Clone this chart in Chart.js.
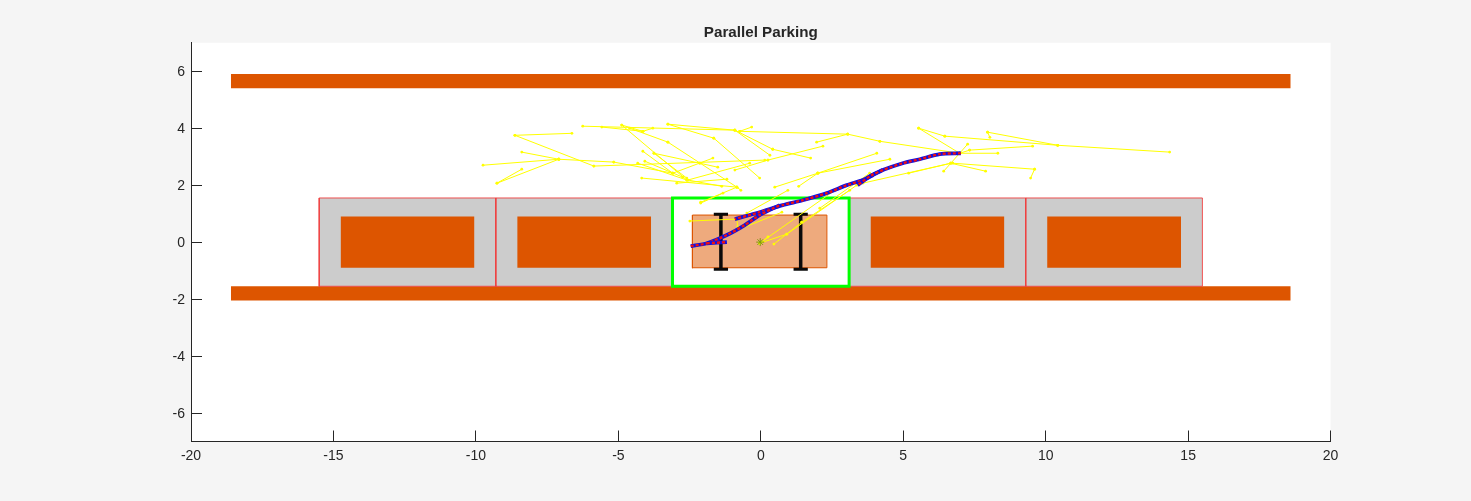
<!DOCTYPE html>
<html>
<head>
<meta charset="utf-8">
<style>
  html, body { margin: 0; padding: 0; background: #f5f5f5; }
  canvas { display: block; }
</style>
<script src="https://cdn.jsdelivr.net/npm/chart.js@4"></script>
</head>
<body>
<canvas id="chart" width="1471" height="501"></canvas>
<script>
var xTicks = [-20, -15, -10, -5, 0, 5, 10, 15, 20];
var yTicks = [-6, -4, -2, 0, 2, 4, 6];

// x0, x1, y0, y1
var curbs = [[-18.6, 18.6, 5.4, 5.9], [-18.6, 18.6, -2.05, -1.55]];
var spots = [[-15.5, -9.3, -1.55, 1.55], [-9.3, -3.1, -1.55, 1.55], [3.1, 9.3, -1.55, 1.55], [9.3, 15.5, -1.55, 1.55]];
var parked = [[-14.75, -10.05, -0.9, 0.9], [-8.55, -3.85, -0.9, 0.9], [3.85, 8.55, -0.9, 0.9], [10.05, 14.75, -0.9, 0.9]];
var goalSpot = [-3.1, 3.1, -1.55, 1.55];
var egoCar = [-2.4, 2.32, -0.9, 0.95];
var wheelX = [-1.4, 1.4];
var wheelY = [-0.95, 0.98];
var wheelCap = 0.25;
var goalPoint = [-0.02, 0.0];

// search tree edges: x1, y1, x2, y2
var treeEdges = [
  [-6.63,3.82,-8.63,3.75],[-8.63,3.75,-5.86,2.67],[-5.86,2.67,0.14,2.88],[-8.39,3.16,-7.09,2.91],
  [-7.09,2.91,-9.75,2.70],[-7.09,2.91,-9.26,2.07],[-8.39,2.56,-9.26,2.07],[-7.09,2.91,-5.16,2.81],
  [-5.16,2.81,-3.09,2.42],[-6.25,4.07,-0.91,3.93],[-5.58,4.04,-4.14,3.89],[-4.88,4.11,-4.14,3.89],
  [-4.14,3.89,-3.79,4.0],[-4.88,4.11,-2.60,2.18],[-4.60,4.0,-3.26,3.51],[-3.26,3.51,-0.84,1.93],
  [-3.26,4.14,-0.91,3.93],[-3.26,4.14,-1.65,3.65],[-1.65,3.65,-0.04,2.25],[-4.14,3.19,-3.09,2.42],
  [-3.75,3.12,-2.60,2.25],[-3.75,3.12,-2.14,2.77],[-4.32,2.77,-2.60,2.18],[-4.07,2.84,-2.74,2.28],
  [-4.18,2.25,-0.84,1.93],[-2.95,2.07,-1.19,2.21],[-3.09,2.42,-1.68,2.95],[-2.56,2.18,-0.39,2.77],
  [-2.14,2.77,-1.51,2.63],[-0.84,1.93,-0.70,1.82],[-0.84,1.93,-2.11,1.40],[-2.56,2.18,-1.37,1.96],
  [-0.74,3.89,3.05,3.79],[-0.32,4.04,-0.74,3.89],[1.96,3.51,3.05,3.79],[3.05,3.79,4.18,3.54],
  [4.18,3.54,6.98,3.12],[-0.91,3.93,0.42,3.26],[0.42,3.26,1.75,2.95],[2.18,3.37,0.25,2.88],
  [0.25,2.88,-0.91,2.53],[-0.91,3.93,0.32,3.05],[6.98,3.12,8.32,3.12],[6.98,3.12,7.33,3.23],
  [7.33,3.23,9.54,3.37],[6.98,3.12,7.26,3.44],[6.98,3.12,5.54,4.0],[5.54,4.0,6.46,3.72],
  [6.46,3.72,10.42,3.40],[10.42,3.40,7.96,3.86],[7.96,3.86,8.04,3.68],[10.42,3.40,14.35,3.16],
  [6.74,2.77,9.61,2.56],[9.61,2.56,9.47,2.25],[6.98,3.12,6.42,2.49],[6.67,2.77,7.89,2.49],
  [6.67,2.77,5.19,2.42],[6.67,2.77,3.58,2.07],[0.49,1.93,2.0,2.42],[2.0,2.42,4.07,3.12],
  [2.0,2.42,4.53,2.91],[2.0,2.42,1.33,1.96],[3.82,2.42,2.07,1.19],[3.37,2.0,0.91,0.28],
  [-2.49,0.74,-0.84,0.81],[-0.84,0.81,-0.81,0.53],[0.74,1.05,-1.09,0.32],[-0.49,1.02,0.95,1.82],
  [-0.04,-0.04,0.25,0.18],[-0.04,-0.04,2.60,1.82],[-0.04,-0.04,0.91,0.28],[0.46,-0.07,1.44,0.70],
  [1.44,0.70,3.12,1.82],[-2.11,1.37,-1.33,1.72]
];

// planned paths, x and y kept apart
var pathAX = [7.02, 6.28, 5.58, 4.98, 4.28, 3.93, 3.58, 3.02, 2.32, 1.47, 0.77, -0.04, -0.91];
var pathAY = [3.12, 3.09, 2.91, 2.77, 2.53, 2.35, 2.18, 2.0, 1.72, 1.47, 1.30, 1.05, 0.81];
var pathBX = [4.28, 3.89, 3.40];
var pathBY = [2.53, 2.35, 2.0];
var pathCX = [-2.46, -1.89, -1.19, -0.56, -0.04, 0.67];
var pathCY = [-0.14, -0.04, 0.25, 0.60, 0.95, 1.30];
var pathDX = [-1.89, -1.19];
var pathDY = [-0.04, 0.0];

var orange = "#dd5500";
var datasets = [];

function addFill(r, color) {
  datasets.push({
    data: [{x: r[0], y: r[3]}, {x: r[1], y: r[3]}],
    fill: {value: r[2]}, backgroundColor: color, borderWidth: 0, pointRadius: 0
  });
}
function addOutline(r, color, width) {
  datasets.push({
    data: [{x: r[0], y: r[2]}, {x: r[1], y: r[2]}, {x: r[1], y: r[3]}, {x: r[0], y: r[3]}, {x: r[0], y: r[2]}],
    borderColor: color, borderWidth: width, pointRadius: 0, fill: false, borderJoinStyle: "miter", borderCapStyle: "square"
  });
}
function addLine(pts, color, width, radius, dash, tension) {
  datasets.push({
    data: pts, borderColor: color, borderWidth: width, pointRadius: radius || 0,
    pointBackgroundColor: color, pointBorderWidth: 0, fill: false, borderDash: dash || [], tension: tension || 0
  });
}
function zipPath(xs, ys) {
  return xs.map(function(x, i) { return {x: x, y: ys[i]}; });
}

curbs.forEach(function(r) { addFill(r, orange); });
spots.forEach(function(r) { addFill(r, "#cccccc"); addOutline(r, "#ee4040", 0.9); });
parked.forEach(function(r) { addFill(r, orange); });
addOutline(goalSpot, "#00ff00", 3);
addFill(egoCar, "#eeaa7d");
addOutline(egoCar, orange, 1);

wheelX.forEach(function(x) {
  addLine([{x: x, y: wheelY[0]}, {x: x, y: wheelY[1]}], "#0a0a0a", 3.5);
  wheelY.forEach(function(y) {
    addLine([{x: x - wheelCap, y: y}, {x: x + wheelCap, y: y}], "#0a0a0a", 3);
  });
});

treeEdges.forEach(function(e) {
  addLine([{x: e[0], y: e[1]}, {x: e[2], y: e[3]}], "#ffff00", 1, 1.4);
});

[[pathAX, pathAY], [pathBX, pathBY], [pathCX, pathCY], [pathDX, pathDY]].forEach(function(p) {
  addLine(zipPath(p[0], p[1]), "#1010e0", 3.8, 0, [], 0.25);
  addLine(zipPath(p[0], p[1]), "#f01010", 2.4, 0, [3, 2], 0.25);
});

datasets.push({
  data: [{x: goalPoint[0], y: goalPoint[1]}], pointStyle: "star", pointRadius: 4,
  pointBorderColor: "#7f9a10", pointBorderWidth: 1, showLine: false
});

datasets.forEach(function(d, i) { d.order = datasets.length - i; });

var plotBackground = {
  id: "plotBackground",
  beforeDraw: function(chart) {
    var a = chart.chartArea;
    chart.ctx.fillStyle = "#ffffff";
    chart.ctx.fillRect(a.left, a.top, a.width, a.height);
  }
};

window.chart = new Chart(document.getElementById("chart").getContext("2d"), {
  type: "line",
  data: {datasets: datasets},
  plugins: [plotBackground],
  options: {
    responsive: false,
    animation: false,
    layout: {padding: {left: 0, right: 140.4, top: 0, bottom: 0}},
    plugins: {
      legend: {display: false},
      tooltip: {enabled: false},
      title: {
        display: true, text: "Parallel Parking", color: "#262626", fullSize: false,
        font: {family: "Liberation Sans", size: 15.2, weight: "bold"},
        padding: {top: 23.5, bottom: 1}
      }
    },
    scales: {
      x: {
        type: "linear", min: -20, max: 20,
        afterBuildTicks: function(s) { s.ticks = xTicks.map(function(v) { return {value: v}; }); },
        afterFit: function(s) { s.height = 59.5; },
        grid: {drawOnChartArea: false, tickLength: -11, tickColor: "#262626", tickWidth: 1},
        border: {color: "#262626", width: 1},
        ticks: {color: "#262626", padding: 17, maxRotation: 0, autoSkip: false, font: {family: "Liberation Sans", size: 14}}
      },
      y: {
        type: "linear", min: -7, max: 7,
        afterBuildTicks: function(s) { s.ticks = yTicks.map(function(v) { return {value: v}; }); },
        afterFit: function(s) { s.width = 191; },
        grid: {drawOnChartArea: false, tickLength: -11, tickColor: "#262626", tickWidth: 1},
        border: {color: "#262626", width: 1},
        ticks: {color: "#262626", padding: 17, labelOffset: 1, autoSkip: false, font: {family: "Liberation Sans", size: 14}}
      }
    }
  }
});
</script>
</body>
</html>
